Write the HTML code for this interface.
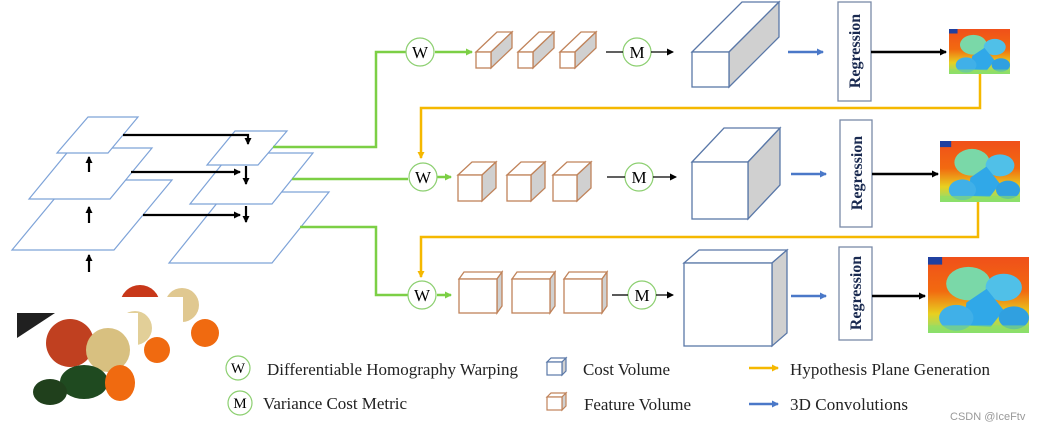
<!DOCTYPE html>
<html><head><meta charset="utf-8"><style>
html,body{margin:0;padding:0;background:#fff;}
svg{display:block;}
text{font-family:"Liberation Serif",serif;}
</style></head><body>
<svg width="1053" height="431" viewBox="0 0 1053 431" xmlns="http://www.w3.org/2000/svg">
<defs>
<marker id="ak" markerWidth="8" markerHeight="8" refX="6" refY="4" orient="auto" markerUnits="userSpaceOnUse"><path d="M0,0.5 L7,4 L0,7.5 Z" fill="#000"/></marker>
<marker id="ag" markerWidth="8" markerHeight="8" refX="6" refY="4" orient="auto" markerUnits="userSpaceOnUse"><path d="M0,0.5 L7,4 L0,7.5 Z" fill="#7ccf45"/></marker>
<marker id="ay" markerWidth="8" markerHeight="8" refX="6" refY="4" orient="auto" markerUnits="userSpaceOnUse"><path d="M0,0.5 L7,4 L0,7.5 Z" fill="#f5b800"/></marker>
<marker id="ab" markerWidth="8" markerHeight="8" refX="6" refY="4" orient="auto" markerUnits="userSpaceOnUse"><path d="M0,0.5 L7,4 L0,7.5 Z" fill="#4a78c8"/></marker>
<linearGradient id="dg" x1="0" y1="0" x2="0" y2="1"><stop offset="0" stop-color="#f0501a"/><stop offset="0.45" stop-color="#f26a10"/><stop offset="0.75" stop-color="#e8d020"/><stop offset="1" stop-color="#80e080"/></linearGradient>
<g id="depth">
<rect x="0" y="0" width="100" height="100" fill="url(#dg)"/>
<rect x="0" y="0" width="14" height="10" fill="#2040a0"/>
<circle cx="40" cy="35" r="22" fill="#7ad8a8"/>
<circle cx="75" cy="40" r="18" fill="#50c0e8"/>
<path d="M38,60 L58,42 L75,70 L62,92 L35,90 Z" fill="#30a8e8"/>
<circle cx="28" cy="80" r="17" fill="#40b0e8"/>
<circle cx="85" cy="80" r="15" fill="#30a0e0"/>
<rect x="0" y="90" width="100" height="10" fill="#90e060" opacity="0.6"/>
</g>
</defs>

<!-- left pyramid -->
<g fill="#fff" stroke="#7ea3d8" stroke-width="1.2">
<polygon points="70,180 172,180 114,250 12,250"/>
<polygon points="71,148 152,148 110,199 29,199"/>
<polygon points="88,117 138,117 108,153 57,153"/>
<polygon points="226,192 329,192 272,263 169,263"/>
<polygon points="231,153 313,153 272,204 190,204"/>
<polygon points="235,131 287,131 258,165 207,165"/>
</g>
<g stroke="#000" stroke-width="2.2" fill="none">
<line x1="89" y1="172" x2="89" y2="157" marker-end="url(#ak)"/>
<line x1="89" y1="223" x2="89" y2="207" marker-end="url(#ak)"/>
<line x1="89" y1="272" x2="89" y2="255" marker-end="url(#ak)"/>
<polyline points="123,135 248,135 248,144" marker-end="url(#ak)"/>
<line x1="131" y1="172" x2="240" y2="172" marker-end="url(#ak)"/>
<line x1="246" y1="166" x2="246" y2="184" marker-end="url(#ak)"/>
<line x1="143" y1="215" x2="240" y2="215" marker-end="url(#ak)"/>
<line x1="246" y1="206" x2="246" y2="222" marker-end="url(#ak)"/>
</g>

<!-- green lines -->
<g stroke="#7ccf45" stroke-width="2.5" fill="none">
<polyline points="273,147 376,147 376,52 406,52"/>
<line x1="435" y1="52" x2="472" y2="52" marker-end="url(#ag)"/>
<line x1="292" y1="179" x2="408" y2="179"/>
<line x1="437" y1="177" x2="451" y2="177" marker-end="url(#ag)"/>
<polyline points="300,227 376,227 376,295 408,295"/>
<line x1="437" y1="295" x2="451" y2="295" marker-end="url(#ag)"/>
</g>
<!-- yellow lines -->
<g stroke="#f5b800" stroke-width="2.5" fill="none">
<polyline points="980,74 980,108 421,108 421,158" marker-end="url(#ay)"/>
<polyline points="978,202 978,237 421,237 421,277" marker-end="url(#ay)"/>
</g>

<!-- W circles -->
<g fill="#fff" stroke="#8ccf70" stroke-width="1.2">
<circle cx="420" cy="52" r="14"/><circle cx="423" cy="177" r="14"/><circle cx="422" cy="295" r="14"/>
<circle cx="637" cy="52" r="14"/><circle cx="639" cy="177" r="14"/><circle cx="642" cy="295" r="14"/>
</g>
<g font-size="17" text-anchor="middle">
<text x="420" y="58">W</text><text x="423" y="183">W</text><text x="422" y="301">W</text>
<text x="637" y="58">M</text><text x="639" y="183">M</text><text x="642" y="301">M</text>
</g>
<g stroke="#000" stroke-width="1.3">
<line x1="606" y1="52" x2="623" y2="52"/><line x1="651" y1="52" x2="673" y2="52" marker-end="url(#ak)"/>
<line x1="607" y1="177" x2="625" y2="177"/><line x1="653" y1="177" x2="676" y2="177" marker-end="url(#ak)"/>
<line x1="612" y1="295" x2="628" y2="295"/><line x1="656" y1="295" x2="673" y2="295" marker-end="url(#ak)"/>
</g>

<!-- feature boxes -->
<g stroke="#c0835a" stroke-width="1.3">
<!-- row1 dx21 dy-20 w15 h16 -->
<g id="fb1"><polygon points="476,52 497,32 512,32 491,52" fill="#fff"/><polygon points="491,52 512,32 512,48 491,68" fill="#d0d0d0"/><rect x="476" y="52" width="15" height="16" fill="#fff"/></g>
<use href="#fb1" x="42"/><use href="#fb1" x="84"/>
<g id="fb2"><polygon points="458,175 472,162 496,162 482,175" fill="#fff"/><polygon points="482,175 496,162 496,188 482,201" fill="#d0d0d0"/><rect x="458" y="175" width="24" height="26" fill="#fff"/></g>
<use href="#fb2" x="49"/><use href="#fb2" x="95"/>
<g id="fb3"><polygon points="459,279 464,272 502,272 497,279" fill="#fff"/><polygon points="497,279 502,272 502,306 497,313" fill="#d0d0d0"/><rect x="459" y="279" width="38" height="34" fill="#fff"/></g>
<use href="#fb3" x="53"/><use href="#fb3" x="105"/>
</g>

<!-- cost volumes -->
<g stroke="#5a78a8" stroke-width="1.3">
<polygon points="692,52 742,2 779,2 729,52" fill="#fff"/><polygon points="729,52 779,2 779,37 729,87" fill="#d0d0d0"/><rect x="692" y="52" width="37" height="35" fill="#fff"/>
<polygon points="692,162 724,128 780,128 748,162" fill="#fff"/><polygon points="748,162 780,128 780,185 748,219" fill="#d0d0d0"/><rect x="692" y="162" width="56" height="57" fill="#fff"/>
<polygon points="684,263 699,250 787,250 772,263" fill="#fff"/><polygon points="772,263 787,250 787,333 772,346" fill="#d0d0d0"/><rect x="684" y="263" width="88" height="83" fill="#fff"/>
</g>

<!-- blue arrows -->
<g stroke="#4a78c8" stroke-width="2.5">
<line x1="788" y1="52" x2="823" y2="52" marker-end="url(#ab)"/>
<line x1="791" y1="174" x2="826" y2="174" marker-end="url(#ab)"/>
<line x1="791" y1="296" x2="826" y2="296" marker-end="url(#ab)"/>
</g>
<!-- regression boxes -->
<g fill="#fff" stroke="#7a8aa8" stroke-width="1.3">
<rect x="838" y="2" width="33" height="99"/><rect x="840" y="120" width="32" height="107"/><rect x="839" y="247" width="33" height="93"/>
</g>
<g font-size="16" font-weight="bold" fill="#1a2a50" text-anchor="middle">
<text transform="translate(860,51) rotate(-90)">Regression</text>
<text transform="translate(862,173) rotate(-90)">Regression</text>
<text transform="translate(861,293) rotate(-90)">Regression</text>
</g>
<g stroke="#000" stroke-width="2.5">
<line x1="871" y1="52" x2="946" y2="52" marker-end="url(#ak)"/>
<line x1="872" y1="174" x2="938" y2="174" marker-end="url(#ak)"/>
<line x1="872" y1="296" x2="925" y2="296" marker-end="url(#ak)"/>
</g>
<use href="#depth" transform="translate(949,29) scale(0.61,0.45)"/>
<use href="#depth" transform="translate(940,141) scale(0.80,0.61)"/>
<use href="#depth" transform="translate(928,257) scale(1.01,0.76)"/>

<!-- photos -->
<rect x="115" y="285" width="103" height="62" fill="#fff"/>
<circle cx="140" cy="305" r="20" fill="#c8381a"/>
<circle cx="182" cy="305" r="17" fill="#e0c890"/>
<circle cx="205" cy="333" r="14" fill="#f06a10"/>
<rect x="115" y="297" width="68" height="62" fill="#fff"/>
<circle cx="135" cy="328" r="17" fill="#e2cf98"/>
<circle cx="157" cy="350" r="13" fill="#f06a10"/>
<rect x="15" y="313" width="123" height="92" fill="#fff"/>
<polygon points="17,313 55,313 17,338" fill="#202020"/>
<circle cx="70" cy="343" r="24" fill="#c04020"/>
<circle cx="108" cy="350" r="22" fill="#d8c080"/>
<ellipse cx="84" cy="382" rx="24" ry="17" fill="#1f4a20"/>
<ellipse cx="50" cy="392" rx="17" ry="13" fill="#20401c"/>
<ellipse cx="120" cy="383" rx="15" ry="18" fill="#f06a10"/>

<!-- legend -->
<g fill="#fff" stroke="#8ccf70" stroke-width="1.2"><circle cx="238" cy="368" r="12"/><circle cx="240" cy="403" r="12"/></g>
<g font-size="15" text-anchor="middle"><text x="238" y="373">W</text><text x="240" y="408">M</text></g>
<g font-size="17" fill="#222">
<text x="267" y="375" textLength="251">Differentiable Homography Warping</text>
<text x="263" y="409" textLength="144">Variance Cost Metric</text>
<text x="583" y="375" textLength="87">Cost Volume</text>
<text x="584" y="410" textLength="107">Feature Volume</text>
<text x="790" y="375" textLength="200">Hypothesis Plane Generation</text>
<text x="790" y="410" textLength="118">3D Convolutions</text>
</g>
<g stroke-width="1.2">
<g stroke="#5a78a8"><polygon points="547,362 551,358 566,358 562,362" fill="#fff"/><polygon points="562,362 566,358 566,371 562,375" fill="#d0d0d0"/><rect x="547" y="362" width="15" height="13" fill="#fff"/></g>
<g stroke="#c0835a"><polygon points="547,397 551,393 566,393 562,397" fill="#fff"/><polygon points="562,397 566,393 566,406 562,410" fill="#d0d0d0"/><rect x="547" y="397" width="15" height="13" fill="#fff"/></g>
</g>
<line x1="749" y1="368" x2="778" y2="368" stroke="#f5b800" stroke-width="2.5" marker-end="url(#ay)"/>
<line x1="749" y1="404" x2="778" y2="404" stroke="#4a78c8" stroke-width="2.5" marker-end="url(#ab)"/>
<text x="950" y="420" font-size="11" fill="#999" style="font-family:'Liberation Sans',sans-serif">CSDN @IceFtv</text>
</svg>
</body></html>
